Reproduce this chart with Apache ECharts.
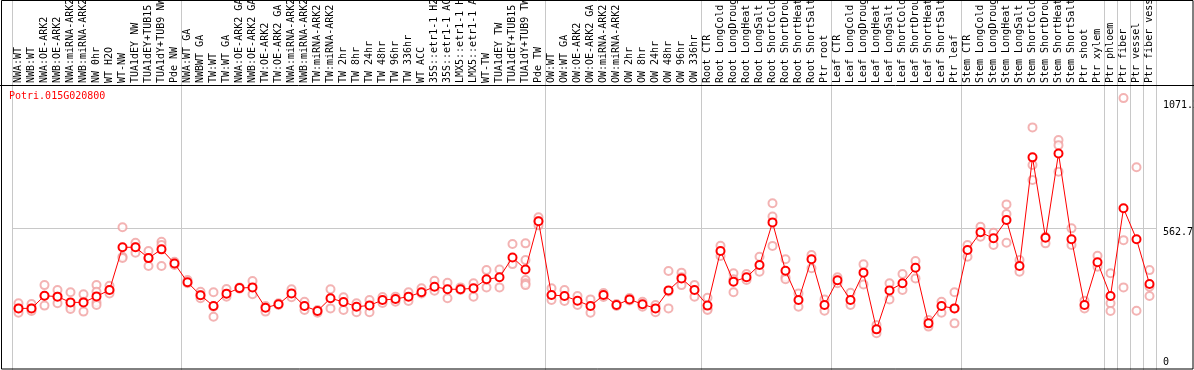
<!DOCTYPE html>
<html>
<head>
<meta charset="utf-8">
<script src="https://cdn.jsdelivr.net/npm/echarts@6/dist/echarts.min.js"></script>
<style>
  html, body { margin: 0; padding: 0; background: #fff; }
  #chart { width: 1194px; height: 370px; }
</style>
</head>
<body>
<div id="chart"></div>
<script>
var gene = 'Potri.015G020800';

var samples = [
  'NWA:WT', 'NWB:WT', 'NWA:OE-ARK2', 'NWB:OE-ARK2', 'NWA:miRNA-ARK2', 'NWB:miRNA-ARK2',
  'NW 0hr', 'WT H2O', 'WT-NW', 'TUA1dEY NW', 'TUA1dEY+TUB15 NW', 'TUA1dY+TUB9 NW', 'Pde NW',
  'NWA:WT GA', 'NWBWT GA', 'TW:WT', 'TW:WT GA', 'NWA:OE-ARK2 GA', 'NWB:OE-ARK2 GA',
  'TW:OE-ARK2', 'TW:OE-ARK2 GA', 'NWA:miRNA-ARK2 GA', 'NWB:miRNA-ARK2 GA', 'TW:miRNA-ARK2',
  'TW:miRNA-ARK2 GA', 'TW 2hr', 'TW 8hr', 'TW 24hr', 'TW 48hr', 'TW 96hr', 'TW 336hr',
  'WT ACC', '35S::etr1-1 H2O', '35S::etr1-1 ACC', 'LMX5::etr1-1 H2O', 'LMX5::etr1-1 ACC',
  'WT-TW', 'TUA1dEY TW', 'TUA1dEY+TUB15 TW', 'TUA1dY+TUB9 TW', 'Pde TW',
  'OW:WT', 'OW:WT GA', 'OW:OE-ARK2', 'OW:OE-ARK2 GA', 'OW:miRNA-ARK2', 'OW:miRNA-ARK2 GA',
  'OW 2hr', 'OW 8hr', 'OW 24hr', 'OW 48hr', 'OW 96hr', 'OW 336hr',
  'Root CTR', 'Root LongCold', 'Root LongDrought', 'Root LongHeat', 'Root LongSalt',
  'Root ShortCold', 'Root ShortDrought', 'Root ShortHeat', 'Root ShortSalt', 'Ptr root',
  'Leaf CTR', 'Leaf LongCold', 'Leaf LongDrought', 'Leaf LongHeat', 'Leaf LongSalt',
  'Leaf ShortCold', 'Leaf ShortDrought', 'Leaf ShortHeat', 'Leaf ShortSalt', 'Ptr leaf',
  'Stem CTR', 'Stem LongCold', 'Stem LongDrought', 'Stem LongHeat', 'Stem LongSalt',
  'Stem ShortCold', 'Stem ShortDrought', 'Stem ShortHeat', 'Stem ShortSalt',
  'Ptr shoot', 'Ptr xylem', 'Ptr phloem', 'Ptr fiber', 'Ptr vessel', 'Ptr fiber vessel'
];

// mean expression per sample
var means = [
  213, 213, 268, 264, 239, 239, 265, 293, 478, 478, 431, 469, 408,
  326, 270, 223, 277, 301, 304, 216, 231, 278, 223, 202, 257, 241, 220, 226, 249, 254, 264, 283,
  307, 296, 296, 300, 339, 348, 434, 382, 591,
  271, 267, 246, 223, 271, 228, 252, 231, 213, 291, 343, 293,
  225, 462, 329, 348, 401, 586, 376, 249, 426, 228,
  335, 249, 368, 122, 291, 322, 389, 148, 223, 213,
  466, 543, 517, 596, 397, 868, 519, 885, 513,
  228, 413, 267, 647, 513, 319
];

// single replicates per sample
var replicates = [
  [235, 213, 194], [232, 213, 202], [314, 268, 225], [293, 264, 235], [283, 220, 210],
  [274, 242, 199], [314, 285, 239, 228], [311, 293, 278], [565, 437, 432], [498, 478, 454],
  [462, 431, 397], [502, 488, 397], [415, 401],
  [336, 322], [285, 270, 257], [283, 220, 177], [297, 264], [304, 298], [332, 274],
  [223, 199], [235, 228], [296, 261], [242, 206], [206, 194], [296, 213], [261, 206],
  [235, 196], [249, 196], [262, 236], [264, 242], [283, 245], [300, 278],
  [333, 290], [324, 257], [304, 293], [322, 264], [379, 304], [382, 304], [492, 405],
  [495, 423, 336, 322, 314], [608, 591, 573],
  [300, 249], [293, 245], [267, 228], [252, 194], [280, 262], [232, 223], [258, 247],
  [242, 220], [228, 196], [375, 286, 213], [368, 348, 314], [314, 264],
  [259, 210, 206], [485, 440], [365, 339, 283], [362, 336], [437, 372], [669, 611, 484],
  [426, 348, 339], [278, 220], [444, 387], [252, 203],
  [348, 322], [281, 228], [404, 317], [141, 105], [322, 252], [362, 293], [418, 343],
  [163, 134], [242, 194], [283, 213, 148],
  [488, 437], [567, 524], [541, 488], [664, 622, 498], [423, 372], [998, 835, 770],
  [524, 495], [943, 921, 806], [560, 488],
  [246, 213], [441, 394], [365, 235, 202], [1125, 509, 304], [825, 203], [379, 307, 267]
];

// first sample of each block gets a separator on its left edge
var groupStarts = [0, 13, 41, 53, 63, 73, 84, 85, 86, 87];

var yMax = 1125.4;
var yMid = 562.7;
var yTopLabel = 1071.2;

var repPoints = [];
replicates.forEach(function (vals, i) {
    vals.forEach(function (v) {
        repPoints.push([i, v]);
    });
});

var mono = 'DejaVu Sans Mono';

var chart = echarts.init(document.getElementById('chart'));

var option = {
    animation: false,
    backgroundColor: '#fff',
    title: {
        text: gene,
        left: 9,
        top: 91,
        padding: 0,
        textStyle: { color: '#ff0000', fontFamily: mono, fontSize: 10, fontWeight: 'normal' }
    },
    grid: [
        { left: 12, right: 38, top: 0, bottom: 0, outerBoundsMode: 'none', containLabel: false },
        { left: 12, right: 38, top: 98, bottom: 12.5, outerBoundsMode: 'none', containLabel: false }
    ],
    xAxis: [
        {
            type: 'category',
            gridIndex: 0,
            data: samples,
            position: 'top',
            offset: -85,
            axisLine: { show: false },
            axisTick: { show: false },
            axisLabel: {
                interval: 0,
                rotate: 90,
                margin: 2,
                color: '#000',
                fontFamily: mono,
                fontSize: 10
            },
            splitLine: {
                show: true,
                interval: function (index) { return groupStarts.indexOf(index) >= 0; },
                lineStyle: { color: '#c8c8c8', width: 1 }
            }
        },
        {
            type: 'category',
            gridIndex: 1,
            data: samples,
            show: false
        }
    ],
    yAxis: [
        { type: 'value', gridIndex: 0, show: false, splitLine: { show: false } },
        {
            type: 'value',
            gridIndex: 1,
            position: 'right',
            min: 0,
            max: yMax,
            interval: yMid,
            axisLine: { show: false },
            axisTick: { show: false },
            axisLabel: {
                margin: 7,
                verticalAlign: 'top',
                color: '#000',
                fontFamily: mono,
                fontSize: 10,
                formatter: function (v) {
                    if (v === 0) return '0';
                    if (Math.abs(v - yMid) < 0.01) return String(yMid);
                    return '';
                }
            },
            splitLine: {
                show: true,
                lineStyle: { color: ['rgba(0,0,0,0)', '#c8c8c8', 'rgba(0,0,0,0)'], width: 1 }
            }
        },
        {
            type: 'value',
            gridIndex: 1,
            position: 'right',
            min: 0,
            max: yMax,
            interval: yTopLabel,
            axisLine: { show: false },
            axisTick: { show: false },
            splitLine: { show: false },
            axisLabel: {
                margin: 7,
                verticalAlign: 'bottom',
                color: '#000',
                fontFamily: mono,
                fontSize: 10,
                formatter: function (v) {
                    return Math.abs(v - yTopLabel) < 0.01 ? String(yTopLabel) : '';
                }
            }
        }
    ],
    series: [
        {
            name: 'replicates',
            type: 'scatter',
            xAxisIndex: 1,
            yAxisIndex: 1,
            data: repPoints,
            symbol: 'emptyCircle',
            symbolSize: 8,
            clip: false,
            itemStyle: { color: '#f0a0a0', borderColor: '#f0a0a0', borderWidth: 1.1 }
        },
        {
            name: 'mean',
            type: 'line',
            xAxisIndex: 1,
            yAxisIndex: 1,
            data: means,
            symbol: 'emptyCircle',
            symbolSize: 8,
            showAllSymbol: true,
            clip: false,
            lineStyle: { color: '#ff0000', width: 1 },
            itemStyle: { color: '#ff0000', borderColor: '#ff0000', borderWidth: 1.3 }
        }
    ],
    graphic: [
        {
            type: 'line',
            z: 100,
            shape: { x1: 0, y1: 85.5, x2: 1194, y2: 85.5 },
            style: { stroke: '#000', lineWidth: 1 }
        },
        {
            type: 'rect',
            z: 100,
            shape: { x: 1.5, y: 0.5, width: 1191.5, height: 368.5 },
            style: { fill: null, stroke: '#000', lineWidth: 1 }
        }
    ]
};

chart.setOption(option);
</script>
</body>
</html>
